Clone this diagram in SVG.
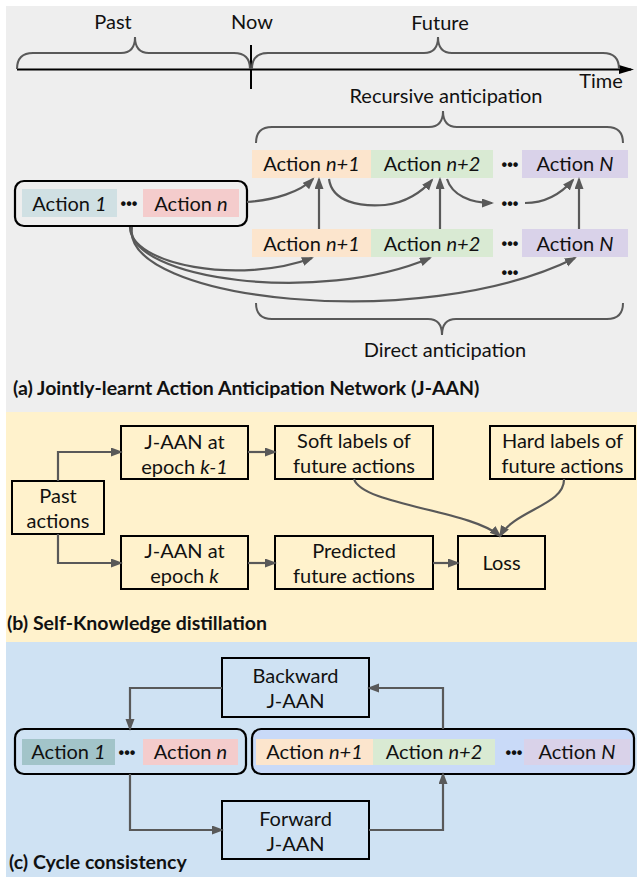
<svg xmlns="http://www.w3.org/2000/svg" width="637" height="877" viewBox="0 0 637 877">
<defs>
<style>
text{font-family:Lato,"Liberation Sans",sans-serif;font-size:20px;fill:#111}
.c{text-anchor:middle}
.i{font-style:italic}
.h{font-weight:bold;font-size:19.5px}
.dots{font-family:"Liberation Sans",sans-serif;font-size:16px;font-weight:bold;text-anchor:middle}
.box{fill:none;stroke:#000;stroke-width:2}
.rbox{stroke:#000;stroke-width:2.2}
.con{fill:none;stroke:#595959;stroke-width:2.2}
.br{fill:none;stroke:#595959;stroke-width:2}
</style>
<marker id="ah" markerUnits="userSpaceOnUse" markerWidth="13" markerHeight="10" refX="10" refY="4.5" orient="auto"><path d="M0,0 L12,4.5 L0,9 z" fill="#595959"/></marker>
<marker id="ahk" markerUnits="userSpaceOnUse" markerWidth="16" markerHeight="10" refX="12" refY="4.5" orient="auto"><path d="M0,0 L15,4.5 L0,9 z" fill="#000"/></marker>
</defs>

<rect x="6" y="6" width="631" height="406" fill="#eeeeee"/>
<rect x="6" y="412" width="631" height="230" fill="#fff2cc"/>
<rect x="6" y="642" width="631" height="235" fill="#cfe2f3"/>

<g id="timeline">
<line x1="17" y1="69.5" x2="631" y2="69.5" stroke="#000" stroke-width="2" marker-end="url(#ahk)"/>
<line x1="251" y1="45" x2="251" y2="89" stroke="#000" stroke-width="2"/>
<path class="br" d="M17,69 Q17,53 33,53 L121,53 Q135,53 135,37 Q135,53 149,53 L234,53 Q250,53 250,69"/>
<path class="br" d="M252,69 Q252,53 268,53 L424,53 Q438,53 438,37 Q438,53 452,53 L603,53 Q619,53 619,69"/>
<text class="c" x="113" y="29">Past</text>
<text class="c" x="252" y="29">Now</text>
<text class="c" x="440" y="30">Future</text>
<text class="c" x="601" y="88">Time</text>
</g>

<g id="recursive-brace">
<path class="br" d="M256,143 Q256,127 272,127 L429,127 Q443,127 443,111 Q443,127 457,127 L607,127 Q623,127 623,143"/>
<text class="c" x="446" y="103">Recursive anticipation</text>
</g>
<g id="direct-brace">
<path class="br" d="M256,303 Q256,319 272,319 L428,319 Q442,319 442,335 Q442,319 456,319 L607,319 Q623,319 623,303"/>
<text class="c" x="445" y="357">Direct anticipation</text>
</g>

<g id="a-past">
<rect x="15" y="181" width="232" height="45" rx="9" fill="none" class="rbox"/>
<rect x="22" y="189" width="95" height="28" fill="#d0e0e3"/>
<rect x="143" y="189" width="96" height="28" fill="#f4cccc"/>
<text class="c" x="69.5" y="210.5">Action <tspan class="i">1</tspan></text>
<text class="dots" x="129" y="208.5">•••</text>
<text class="c" x="191" y="210.5">Action <tspan class="i">n</tspan></text>
</g>

<g id="a-recursive">
<rect x="252" y="150" width="119" height="28" fill="#fce5cd"/>
<rect x="371" y="150" width="122" height="28" fill="#d9ead3"/>
<rect x="522" y="150" width="106" height="28" fill="#d9d2e9"/>
<text class="c" x="311.5" y="171">Action <tspan class="i">n+1</tspan></text>
<text class="c" x="432" y="171">Action <tspan class="i">n+2</tspan></text>
<text class="dots" x="510" y="169.5">•••</text>
<text class="c" x="575" y="171">Action <tspan class="i">N</tspan></text>
</g>
<g id="a-mid-dots"><text class="dots" x="510" y="208.5">•••</text></g>
<g id="a-direct">
<rect x="252" y="229" width="119" height="28" fill="#fce5cd"/>
<rect x="371" y="229" width="122" height="28" fill="#d9ead3"/>
<rect x="522" y="229" width="106" height="28" fill="#d9d2e9"/>
<text class="c" x="311.5" y="250.5">Action <tspan class="i">n+1</tspan></text>
<text class="c" x="432" y="250.5">Action <tspan class="i">n+2</tspan></text>
<text class="dots" x="510" y="248.5">•••</text>
<text class="c" x="575" y="250.5">Action <tspan class="i">N</tspan></text>
<text class="dots" x="510" y="277.5">•••</text>
</g>

<g id="b-past"><rect class="box" x="12" y="481" width="92" height="53"/><text class="c" x="58" y="503">Past</text><text class="c" x="58" y="528">actions</text></g>
<g id="b-jaan-k1"><rect class="box" x="121" y="426" width="127" height="53"/><text class="c" x="184.5" y="449">J-AAN at</text><text class="c" x="184.5" y="474">epoch <tspan class="i">k-1</tspan></text></g>
<g id="b-soft"><rect class="box" x="275" y="426" width="158" height="53"/><text class="c" x="354" y="448">Soft labels of</text><text class="c" x="354" y="473">future actions</text></g>
<g id="b-hard"><rect class="box" x="490" y="426" width="145" height="53"/><text class="c" x="562.5" y="448">Hard labels of</text><text class="c" x="562.5" y="473">future actions</text></g>
<g id="b-jaan-k"><rect class="box" x="121" y="536" width="127" height="53"/><text class="c" x="184.5" y="558">J-AAN at</text><text class="c" x="184.5" y="583">epoch <tspan class="i">k</tspan></text></g>
<g id="b-pred"><rect class="box" x="275" y="536" width="158" height="53"/><text class="c" x="354" y="558">Predicted</text><text class="c" x="354" y="583">future actions</text></g>
<g id="b-loss"><rect class="box" x="458" y="536" width="87" height="53"/><text class="c" x="501.5" y="570">Loss</text></g>

<g id="c-backward"><rect class="box" x="222" y="658" width="147" height="59"/><text class="c" x="295.5" y="683">Backward</text><text class="c" x="295.5" y="708">J-AAN</text></g>
<g id="c-forward"><rect class="box" x="222" y="801" width="147" height="58"/><text class="c" x="295.5" y="826">Forward</text><text class="c" x="295.5" y="851">J-AAN</text></g>
<g id="c-past">
<rect x="15" y="729" width="231" height="45" rx="9" fill="none" class="rbox"/>
<rect x="22" y="739" width="93" height="26" fill="#a2c4c9"/>
<rect x="143" y="739" width="95" height="26" fill="#f4cccc"/>
<text class="c" x="68.5" y="759">Action <tspan class="i">1</tspan></text>
<text class="dots" x="127" y="757.5">•••</text>
<text class="c" x="190.5" y="759">Action <tspan class="i">n</tspan></text>
</g>
<g id="c-future">
<rect x="252" y="729" width="382" height="45" rx="9" fill="#c9daf8" class="rbox"/>
<rect x="256" y="739" width="117" height="26" fill="#fce5cd"/>
<rect x="373" y="739" width="122" height="26" fill="#d9ead3"/>
<rect x="524" y="739" width="106" height="26" fill="#d9d2e9"/>
<text class="c" x="314.5" y="759">Action <tspan class="i">n+1</tspan></text>
<text class="c" x="434" y="759">Action <tspan class="i">n+2</tspan></text>
<text class="dots" x="514" y="757.5">•••</text>
<text class="c" x="577" y="759">Action <tspan class="i">N</tspan></text>
</g>

<g id="connectors">
<path class="con" marker-end="url(#ah)" d="M247,202 C275,200 300,192 313,179"/>
<path class="con" marker-end="url(#ah)" d="M329,179 C332,202 360,207 385,205 C405,203 422,192 432,180"/>
<path class="con" marker-end="url(#ah)" d="M447,179 C452,195 470,203 492,203"/>
<path class="con" marker-end="url(#ah)" d="M525,203 C545,203 560,195 573,180"/>
<path class="con" marker-end="url(#ah)" d="M319,229 V179"/>
<path class="con" marker-end="url(#ah)" d="M440,229 V179"/>
<path class="con" marker-end="url(#ah)" d="M579,229 V179"/>
<path class="con" marker-end="url(#ah)" d="M130,227 C130,265 240,285 312,258"/>
<path class="con" marker-end="url(#ah)" d="M131,227 C128,280 320,305 430,258"/>
<path class="con" marker-end="url(#ah)" d="M132,227 C120,300 420,335 575,258"/>

<path class="con" marker-end="url(#ah)" d="M58,481 V452 H121"/>
<path class="con" marker-end="url(#ah)" d="M58,534 V563 H121"/>
<path class="con" marker-end="url(#ah)" d="M248,452 H275"/>
<path class="con" marker-end="url(#ah)" d="M248,563 H275"/>
<path class="con" marker-end="url(#ah)" d="M433,563 H458"/>
<path class="con" marker-end="url(#ah)" d="M354,479 C362,505 470,510 500,536"/>
<path class="con" marker-end="url(#ah)" d="M564,479 C565,505 515,510 500,536"/>

<path class="con" marker-end="url(#ah)" d="M222,688 H130 V729"/>
<path class="con" marker-end="url(#ah)" d="M443,729 V688 H369"/>
<path class="con" marker-end="url(#ah)" d="M130,774 V830 H222"/>
<path class="con" marker-end="url(#ah)" d="M369,830 H443 V774"/>
</g>

<g id="headings">
<text class="h" x="13" y="395">(a) Jointly-learnt Action Anticipation Network (J-AAN)</text>
<text class="h" x="7" y="630">(b) Self-Knowledge distillation</text>
<text class="h" x="9" y="869">(c) Cycle consistency</text>
</g>
</svg>
